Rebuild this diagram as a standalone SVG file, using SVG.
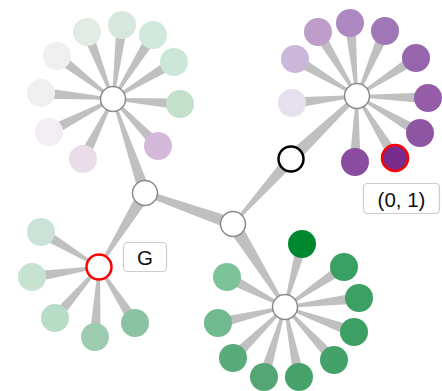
<svg xmlns="http://www.w3.org/2000/svg" width="442" height="391" viewBox="0 0 442 391">
<style>
.lk{fill:#8c8c8c;fill-opacity:0.55}
.hub{fill:#fff;stroke:#8a8a8a;stroke-width:1.5}
.leaf{stroke:none}
.lbl rect{fill:#fff;stroke:#cccccc;stroke-width:1.2}
.lbl text{font-family:"Liberation Sans",Arial,sans-serif;font-size:20.5px;fill:#111;text-anchor:middle;dominant-baseline:central}
</style>
<rect width="442" height="391" fill="#fff"/>
<g id="links">
<polygon class="lk" points="113.93,98.64 92.13,30.01 81.87,33.99 112.07,99.36"/>
<polygon class="lk" points="113.99,99.12 127.46,25.67 116.54,24.33 112.01,98.88"/>
<polygon class="lk" points="113.85,99.53 157.66,37.91 148.34,32.09 112.15,98.47"/>
<polygon class="lk" points="113.52,99.86 176.85,66.70 171.15,57.30 112.48,98.14"/>
<polygon class="lk" points="112.93,100 179.59,109.48 180.41,98.52 113.07,98"/>
<polygon class="lk" points="112.28,99.69 154.03,149.80 161.97,142.20 113.72,98.31"/>
<polygon class="lk" points="112.11,98.55 78.08,156.54 87.92,161.46 113.89,99.45"/>
<polygon class="lk" points="112.54,98.11 46.48,127.11 51.52,136.89 113.46,99.89"/>
<polygon class="lk" points="113.08,98 41.46,87.52 40.54,98.48 112.92,100"/>
<polygon class="lk" points="113.61,98.21 60.35,51.64 53.65,60.36 112.39,99.79"/>
<polygon class="lk" points="356.89,95.01 291.41,97.53 292.59,108.47 357.11,96.99"/>
<polygon class="lk" points="357.51,95.14 297.82,54.28 292.18,63.72 356.49,96.86"/>
<polygon class="lk" points="357.85,95.48 322.70,29.13 313.30,34.87 356.15,96.52"/>
<polygon class="lk" points="358,95.9 355.48,22.48 344.52,23.52 356,96.1"/>
<polygon class="lk" points="357.92,96.40 390.05,33.18 379.95,28.82 356.08,95.60"/>
<polygon class="lk" points="357.54,96.84 418.98,62.62 413.02,53.38 356.46,95.16"/>
<polygon class="lk" points="356.97,97 427.85,103.5 428.15,92.5 357.03,95"/>
<polygon class="lk" points="356.49,96.86 417.22,137.74 422.78,128.26 357.51,95.14"/>
<polygon class="lk" points="356.15,96.52 390.31,160.88 399.69,155.12 357.85,95.48"/>
<polygon class="lk" points="356,95.97 349.5,161.83 360.5,162.17 358,96.03"/>
<polygon class="lk" points="285.97,307.26 307.31,245.43 296.69,242.57 284.03,306.74"/>
<polygon class="lk" points="285.56,307.83 347.09,271.55 340.91,262.45 284.44,306.17"/>
<polygon class="lk" points="285.12,308 359.67,303.46 358.33,292.54 284.88,306"/>
<polygon class="lk" points="284.66,307.94 352.13,337.17 355.87,326.83 285.34,306.06"/>
<polygon class="lk" points="284.27,307.68 329.96,363.73 338.04,356.27 285.73,306.32"/>
<polygon class="lk" points="284.02,307.2 293.61,378.08 304.39,375.92 285.98,306.8"/>
<polygon class="lk" points="284.04,306.71 258.73,375.42 269.27,378.58 285.96,307.29"/>
<polygon class="lk" points="284.3,306.29 229.15,354.07 236.85,361.93 285.7,307.71"/>
<polygon class="lk" points="284.77,306.03 216.72,317.65 219.28,328.35 285.23,307.97"/>
<polygon class="lk" points="285.46,306.11 229.52,272.12 224.48,281.88 284.54,307.89"/>
<polygon class="lk" points="99.52,266.14 43.84,227.29 38.16,236.71 98.48,267.86"/>
<polygon class="lk" points="98.85,266.01 31.19,271.56 32.81,282.44 99.15,267.99"/>
<polygon class="lk" points="98.24,266.35 50.84,314.41 59.16,321.59 99.76,267.65"/>
<polygon class="lk" points="98,266.94 89.51,336.69 100.49,337.31 100,267.06"/>
<polygon class="lk" points="98.16,267.54 130.37,325.98 139.63,320.02 99.84,266.46"/>
<polygon class="lk" points="112.05,99.32 139.32,194.93 150.68,191.07 113.95,98.68"/>
<polygon class="lk" points="99.85,267.53 150.53,196.43 139.47,189.57 98.15,266.47"/>
<polygon class="lk" points="144,195.83 231.01,229.66 234.99,218.34 146,190.17"/>
<polygon class="lk" points="233.75,224.67 295.48,163 286.52,155 232.25,223.33"/>
<polygon class="lk" points="295.49,163.71 358.38,97.45 355.62,94.55 286.51,154.29"/>
<polygon class="lk" points="227.06,227.72 283.73,307.8 286.27,306.2 238.94,220.28"/>
</g>
<g id="tl-leaves">
<circle class="leaf" cx="87" cy="32" r="14" fill="#e3ebe5"/>
<circle class="leaf" cx="122" cy="25" r="14" fill="#d6e8de"/>
<circle class="leaf" cx="153" cy="35" r="14" fill="#d1e8dc"/>
<circle class="leaf" cx="174" cy="62" r="14" fill="#cbe7d7"/>
<circle class="leaf" cx="180" cy="104" r="14" fill="#c1e1cb"/>
<circle class="leaf" cx="158" cy="146" r="14" fill="#d4b9da"/>
<circle class="leaf" cx="83" cy="159" r="14" fill="#e8dde9"/>
<circle class="leaf" cx="49" cy="132" r="14" fill="#f1edf3"/>
<circle class="leaf" cx="41" cy="93" r="14" fill="#efefef"/>
<circle class="leaf" cx="57" cy="56" r="14" fill="#efefef"/>
</g>
<g id="tr-leaves">
<circle class="leaf" cx="292" cy="103" r="14" fill="#e5dfee"/>
<circle class="leaf" cx="295" cy="59" r="14" fill="#cbb7da"/>
<circle class="leaf" cx="318" cy="32" r="14" fill="#bf9dca"/>
<circle class="leaf" cx="350" cy="23" r="14" fill="#ae88c1"/>
<circle class="leaf" cx="385" cy="31" r="14" fill="#a077b6"/>
<circle class="leaf" cx="416" cy="58" r="14" fill="#9765ac"/>
<circle class="leaf" cx="428" cy="98" r="14" fill="#955ca8"/>
<circle class="leaf" cx="420" cy="133" r="14" fill="#8e55a3"/>
<circle class="leaf" cx="355" cy="162" r="14" fill="#894c9f"/>
</g>
<g id="node-01">
<circle cx="395" cy="158" r="13" fill="#7a2c8c" stroke="#ff0000" stroke-width="2.5"/>
</g>
<g id="br-leaves">
<circle class="leaf" cx="302" cy="244" r="14" fill="#00882f"/>
<circle class="leaf" cx="344" cy="267" r="14" fill="#3a9f62"/>
<circle class="leaf" cx="359" cy="298" r="14" fill="#3c9f63"/>
<circle class="leaf" cx="354" cy="332" r="14" fill="#3c9f63"/>
<circle class="leaf" cx="334" cy="360" r="14" fill="#42a268"/>
<circle class="leaf" cx="299" cy="377" r="14" fill="#45a36a"/>
<circle class="leaf" cx="264" cy="377" r="14" fill="#54a775"/>
<circle class="leaf" cx="233" cy="358" r="14" fill="#5aab7a"/>
<circle class="leaf" cx="218" cy="323" r="14" fill="#71b98f"/>
<circle class="leaf" cx="227" cy="277" r="14" fill="#7cc39a"/>
</g>
<g id="g-leaves">
<circle class="leaf" cx="41" cy="232" r="14" fill="#cbe2d8"/>
<circle class="leaf" cx="32" cy="277" r="14" fill="#c6e3d1"/>
<circle class="leaf" cx="55" cy="318" r="14" fill="#b8ddc7"/>
<circle class="leaf" cx="95" cy="337" r="14" fill="#9dcbb0"/>
<circle class="leaf" cx="135" cy="323" r="14" fill="#89c3a1"/>
</g>
<g id="hub-tl"><circle class="hub" cx="113" cy="99" r="12.5"/></g>
<g id="hub-tr"><circle class="hub" cx="357" cy="96" r="12.5"/></g>
<g id="hub-br"><circle class="hub" cx="285" cy="307" r="12.5"/></g>
<g id="hub-upper"><circle class="hub" cx="145" cy="193" r="12.5"/></g>
<g id="hub-middle"><circle class="hub" cx="233" cy="224" r="12.5"/></g>
<g id="node-black"><circle cx="291" cy="159" r="12.5" fill="#fff" stroke="#000" stroke-width="2.5"/></g>
<g id="node-G"><circle cx="99" cy="267" r="12.5" fill="#fff" stroke="#ff0000" stroke-width="2.5"/></g>
<g id="label-G" class="lbl">
<rect x="123.5" y="242.5" width="43" height="29" rx="4"/>
<text x="145" y="257.5">G</text>
</g>
<g id="label-01" class="lbl">
<rect x="363.5" y="183.5" width="76" height="30" rx="4"/>
<text x="401.5" y="199">(0, 1)</text>
</g>
</svg>
